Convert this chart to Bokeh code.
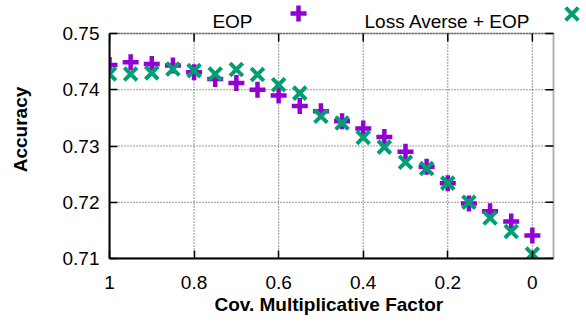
from bokeh.plotting import figure
from bokeh.models import Range1d, FixedTicker, Legend, LegendItem, Label, BoxAnnotation, Title
from bokeh.embed import file_html
from bokeh.resources import INLINE

cov_factor = [1.0, 0.95, 0.9, 0.85, 0.8, 0.75, 0.7, 0.65, 0.6, 0.55, 0.5,
              0.45, 0.4, 0.35, 0.3, 0.25, 0.2, 0.15, 0.1, 0.05, 0.0]
eop = [0.7444, 0.7449, 0.7446, 0.7443, 0.7431, 0.7419, 0.7412, 0.7400, 0.7390, 0.7371, 0.7362,
       0.7344, 0.7331, 0.7316, 0.7290, 0.7263, 0.7234, 0.7198, 0.7184, 0.7166, 0.7141]
loss_averse_eop = [0.7428, 0.7428, 0.7430, 0.7437, 0.7434, 0.7428, 0.7436, 0.7427, 0.7409, 0.7394, 0.7353,
                   0.7341, 0.7315, 0.7298, 0.7271, 0.7260, 0.7234, 0.7200, 0.7172, 0.7148, 0.7108]
series_names = ["EOP", "Loss Averse + EOP"]
x_ticks = [1, 0.8, 0.6, 0.4, 0.2, 0]
x_tick_labels = ["1", "0.8", "0.6", "0.4", "0.2", "0"]
y_ticks = [0.71, 0.72, 0.73, 0.74, 0.75]
y_tick_labels = ["0.71", "0.72", "0.73", "0.74", "0.75"]
x_limits = (1, -0.05)
y_limits = (0.71, 0.75)
x_title = "Cov. Multiplicative Factor"
y_title = "Accuracy"

PURPLE = "#9400D3"
GREEN = "#009E73"
FONT = "Liberation Sans"
FS = "19px"

# geometry (pixels): plotted box 444x225, with a 33px key band above and 33px to the right
BOX_W, BOX_H, EXTRA_R, EXTRA_T, TICK = 444, 225, 33, 33, 8
x_span = x_limits[1] - x_limits[0]
y_span = y_limits[1] - y_limits[0]
x_end = x_limits[1] + x_span * EXTRA_R / BOX_W
y_end = y_limits[1] + y_span * EXTRA_T / BOX_H

p = figure(width=586, height=324, output_backend="svg", toolbar_location=None,
           x_range=Range1d(x_limits[0], x_end), y_range=Range1d(y_limits[0], y_end),
           min_border_left=109, min_border_right=0, min_border_top=0, min_border_bottom=66)
p.background_fill_color = "white"
p.border_fill_color = "white"
p.outline_line_color = None
p.grid.visible = False

p.xaxis.ticker = FixedTicker(ticks=x_ticks)
p.yaxis.ticker = FixedTicker(ticks=y_ticks)
p.xaxis.bounds = (min(x_limits), max(x_limits))
p.yaxis.bounds = (min(y_limits), max(y_limits))
p.xaxis.major_label_overrides = dict(zip(x_ticks, x_tick_labels))
p.yaxis.major_label_overrides = dict(zip(y_ticks, y_tick_labels))
p.yaxis.axis_label = y_title

for ax in [p.xaxis[0], p.yaxis[0]]:
    ax.major_tick_in = TICK
    ax.major_tick_out = 0
    ax.minor_tick_line_color = None
    ax.axis_line_width = 2
    ax.major_tick_line_width = 1.5
    ax.major_label_text_font = FONT
    ax.major_label_text_font_size = FS
    ax.major_label_text_color = "black"
    ax.axis_label_text_font = FONT
    ax.axis_label_text_font_size = FS
    ax.axis_label_text_font_style = "bold"
    ax.axis_label_text_color = "black"
p.xaxis.major_label_standoff = 17
p.yaxis.major_label_standoff = 10
p.yaxis.axis_label_standoff = 29

# x-axis title centred under the plotted box (not under the wider frame)
p.add_layout(Title(text=x_title, align="left", offset=105, vertical_align="top", standoff=4,
                   text_font=FONT, text_font_size=FS, text_font_style="bold",
                   text_color="black"), "below")

# dotted grid inside the plotted box, from the tick arrays
nx, ny = len(x_ticks), len(y_ticks)
grid_style = dict(line_color="black", line_alpha=0.8, line_dash="1 2", line_width=1)
p.segment(x0=x_ticks, y0=[y_limits[0]] * nx, x1=x_ticks, y1=[y_limits[1]] * nx, **grid_style)
p.segment(x0=[x_limits[0]] * ny, y0=y_ticks, x1=[x_limits[1]] * ny, y1=y_ticks, **grid_style)

# mirrored inward ticks on the top and right borders
dy = y_span * TICK / BOX_H
dx = x_span * TICK / BOX_W
p.segment(x0=x_ticks, y0=[y_limits[1]] * nx, x1=x_ticks, y1=[y_limits[1] - dy] * nx,
          line_color="black", line_width=1.5)
p.segment(x0=[x_limits[1]] * ny, y0=y_ticks, x1=[x_limits[1] - dx] * ny, y1=y_ticks,
          line_color="black", line_width=1.5)

# border of the plotted box
p.add_layout(BoxAnnotation(left=x_limits[0], right=x_limits[1], bottom=y_limits[0], top=y_limits[1],
                           fill_alpha=0, line_color="black", line_width=2, level="underlay"))

r1 = p.scatter(cov_factor, eop, marker="cross", size=16, line_width=4.5, color=PURPLE)
r2 = p.scatter(cov_factor, loss_averse_eop, marker="x", size=18, line_width=4, color=GREEN)

# key above the box (gnuplot style: text, then marker)
for r, gw, loc in [(r1, 40, (169, 224.7)), (r2, 45, (439.5, 222.2))]:
    lg = Legend(items=[LegendItem(label=" ", renderers=[r])], location=loc,
                glyph_width=gw, glyph_height=gw, border_line_color=None,
                background_fill_alpha=0, padding=0, margin=0, label_standoff=0,
                label_width=0, label_text_font_size="8px")
    p.add_layout(lg)

for txt, xs in [(series_names[0], 143), (series_names[1], 421)]:
    p.add_layout(Label(x=xs, y=237.3, x_units="screen", y_units="screen", text=txt,
                       text_align="right", text_baseline="alphabetic",
                       text_font=FONT, text_font_size=FS, text_color="black"))

open("out.html", "w").write(file_html(p, INLINE))
